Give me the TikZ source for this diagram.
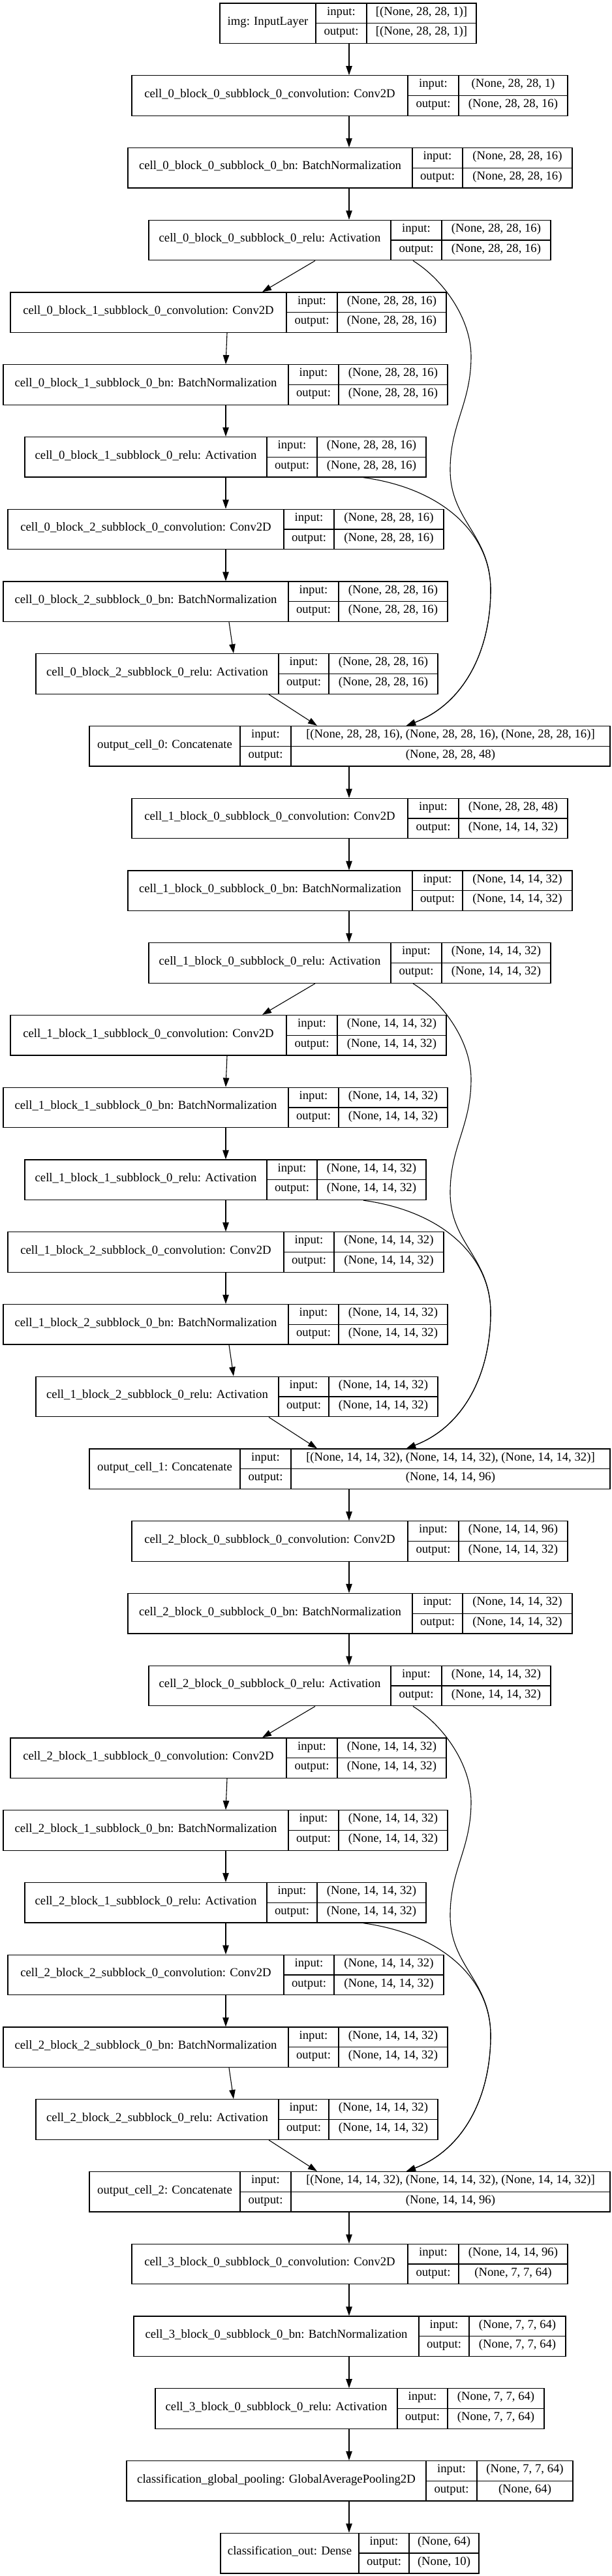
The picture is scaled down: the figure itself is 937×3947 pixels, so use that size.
\documentclass[tikz,border=0pt]{standalone}
\usepackage{fontspec}
\setmainfont{Liberation Serif}
\usetikzlibrary{arrows.meta,fit}

\tikzset{
  kbox/.style={draw, line width=1.4pt, inner sep=0pt},
  divider/.style={line width=1.4pt},
  lbl/.style={inner sep=0pt, text height=0.75em, text depth=0.2em},
  flow/.style={-{Triangle[length=14pt,width=9.5pt]}, line width=1.1pt},
}

% #1 name, #2 row, #3 left, #4 split 1, #5 split 2, #6 right, #7 title, #8 input, #9 output
\newcommand\layerbox[9]{%
  \pgfmathsetmacro\yt{5+110.75*(#2)}
  \pgfmathsetmacro\yb{\yt+61.5}
  \pgfmathsetmacro\ym{\yt+30.75}
  \node[kbox, fit={(#3,\yt) (#6,\yb)}] (#1) {};
  \draw[divider] (#4,\yt) -- (#4,\yb) (#5,\yt) -- (#5,\yb) (#4,\ym) -- (#6,\ym);
  \node[lbl] (#1-t) at ({(#3+#4)/2},\ym) {#7};
  \node[lbl] (#1-ki) at ({(#4+#5)/2},{\yt+15.4}) {input:};
  \node[lbl] (#1-ko) at ({(#4+#5)/2},{\ym+15.4}) {output:};
  \node[lbl] (#1-vi) at ({(#5+#6)/2},{\yt+15.4}) {#8};
  \node[lbl] (#1-vo) at ({(#5+#6)/2},{\ym+15.4}) {#9};
}

% #1 cell, #2 first row, #3 conv input, #4 shape, #5 concat output, #6 previous node
\newcommand\cellblock[6]{%
  \layerbox{c#1b0conv}{#2}{202}{625}{703}{870}{cell\_#1\_block\_0\_subblock\_0\_convolution: Conv2D}{#3}{#4}
  \layerbox{c#1b0bn}{#2+1}{196}{632}{709}{877}{cell\_#1\_block\_0\_subblock\_0\_bn: BatchNormalization}{#4}{#4}
  \layerbox{c#1b0relu}{#2+2}{228}{599}{677}{844}{cell\_#1\_block\_0\_subblock\_0\_relu: Activation}{#4}{#4}
  \layerbox{c#1b1conv}{#2+3}{16}{439}{517}{684}{cell\_#1\_block\_1\_subblock\_0\_convolution: Conv2D}{#4}{#4}
  \layerbox{c#1b1bn}{#2+4}{5}{442}{519}{686}{cell\_#1\_block\_1\_subblock\_0\_bn: BatchNormalization}{#4}{#4}
  \layerbox{c#1b1relu}{#2+5}{38}{409}{486}{653}{cell\_#1\_block\_1\_subblock\_0\_relu: Activation}{#4}{#4}
  \layerbox{c#1b2conv}{#2+6}{12}{435}{512}{680}{cell\_#1\_block\_2\_subblock\_0\_convolution: Conv2D}{#4}{#4}
  \layerbox{c#1b2bn}{#2+7}{5}{442}{519}{686}{cell\_#1\_block\_2\_subblock\_0\_bn: BatchNormalization}{#4}{#4}
  \layerbox{c#1b2relu}{#2+8}{55}{427}{504}{671}{cell\_#1\_block\_2\_subblock\_0\_relu: Activation}{#4}{#4}
  \layerbox{cat#1}{#2+9}{137}{368}{446}{935}{output\_cell\_#1: Concatenate}{[#4, #4, #4]}{#5}
  \draw[flow] (#6.south -| 535,0) -- (c#1b0conv.north -| 535,0);
  \draw[flow] (c#1b0conv.south -| 535,0) -- (c#1b0bn.north -| 535,0);
  \draw[flow] (c#1b0bn.south -| 535,0) -- (c#1b0relu.north -| 535,0);
  \draw[flow] (c#1b0relu.south -| 483,0) -- (c#1b1conv.north -| 402,0);
  \draw[flow] (c#1b1conv.south -| 348,0) -- (c#1b1bn.north -| 346,0);
  \draw[flow] (c#1b1bn.south -| 346,0) -- (c#1b1relu.north -| 346,0);
  \draw[flow] (c#1b1relu.south -| 346,0) -- (c#1b2conv.north -| 346,0);
  \draw[flow] (c#1b2conv.south -| 346,0) -- (c#1b2bn.north -| 346,0);
  \draw[flow] (c#1b2bn.south -| 351,0) -- (c#1b2relu.north -| 358,0);
  \draw[flow] (c#1b2relu.south -| 412,0) -- (cat#1.north -| 486,0);
  % skip connections
  \pgfmathsetmacro\yo{5+110.75*(#2+2)+61.5}
  \draw[flow] (c#1b0relu.south -| 633,0) .. controls (680,\yo+30) and (722,\yo+90) .. (722,\yo+147)
    .. controls (722,\yo+220) and (690,\yo+250) .. (690,\yo+321)
    .. controls (690,\yo+400) and (752,\yo+420) .. (752,\yo+505)
    .. controls (752,\yo+600) and (710,\yo+680) .. (cat#1.north -| 623,0);
  \draw[flow] (c#1b1relu.south -| 557,0) .. controls (680,\yo+350) and (752,\yo+420) .. (752,\yo+505)
    .. controls (752,\yo+600) and (710,\yo+680) .. (cat#1.north -| 623,0);
}

\begin{document}
\begin{tikzpicture}[x=1pt, y=-1pt, font=\fontsize{18.7}{22}\selectfont]
\useasboundingbox (0,0) rectangle (937,3947);

\layerbox{img}{0}{337}{484}{562}{730}{img: InputLayer}{[(None, 28, 28, 1)]}{[(None, 28, 28, 1)]}

\cellblock{0}{1}{(None, 28, 28, 1)}{(None, 28, 28, 16)}{(None, 28, 28, 48)}{img}
\cellblock{1}{11}{(None, 28, 28, 48)}{(None, 14, 14, 32)}{(None, 14, 14, 96)}{cat0}
\cellblock{2}{21}{(None, 14, 14, 96)}{(None, 14, 14, 32)}{(None, 14, 14, 96)}{cat1}

% cell 3 and classification head
\layerbox{c3b0conv}{31}{202}{625}{703}{870}{cell\_3\_block\_0\_subblock\_0\_convolution: Conv2D}{(None, 14, 14, 96)}{(None, 7, 7, 64)}
\layerbox{c3b0bn}{32}{205}{642}{719}{867}{cell\_3\_block\_0\_subblock\_0\_bn: BatchNormalization}{(None, 7, 7, 64)}{(None, 7, 7, 64)}
\layerbox{c3b0relu}{33}{238}{609}{686}{834}{cell\_3\_block\_0\_subblock\_0\_relu: Activation}{(None, 7, 7, 64)}{(None, 7, 7, 64)}
\layerbox{pool}{34}{194}{653}{731}{878}{classification\_global\_pooling: GlobalAveragePooling2D}{(None, 7, 7, 64)}{(None, 64)}
\layerbox{dense}{35}{338}{550}{627}{734}{classification\_out: Dense}{(None, 64)}{(None, 10)}

\draw[flow] (cat2.south -| 535,0) -- (c3b0conv.north -| 535,0);
\draw[flow] (c3b0conv.south -| 535,0) -- (c3b0bn.north -| 535,0);
\draw[flow] (c3b0bn.south -| 535,0) -- (c3b0relu.north -| 535,0);
\draw[flow] (c3b0relu.south -| 535,0) -- (pool.north -| 535,0);
\draw[flow] (pool.south -| 535,0) -- (dense.north -| 535,0);
\end{tikzpicture}
\end{document}
